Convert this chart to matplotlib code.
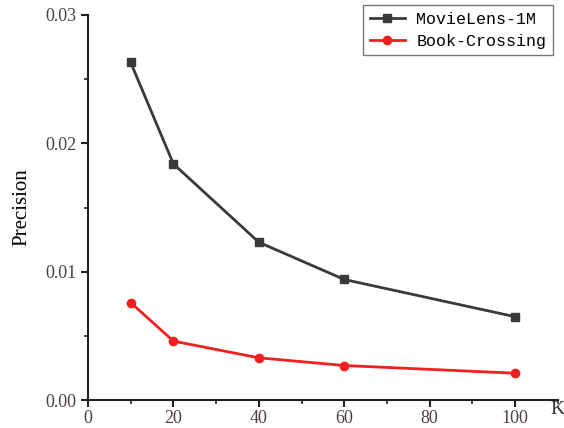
import numpy as np
import matplotlib.pyplot as plt
from matplotlib.ticker import MultipleLocator

plt.rcParams['font.family'] = ['Liberation Serif', 'DejaVu Serif']

k = [10, 20, 40, 60, 100]
movielens = [0.0263, 0.0184, 0.0123, 0.0094, 0.0065]
bookcrossing = [0.0076, 0.0046, 0.0033, 0.0027, 0.0021]

fig = plt.figure(figsize=(5.64, 4.28), dpi=100)
ax = fig.add_axes([0.156, 0.065, 0.833, 0.9])

ax.plot(k, movielens, color='#3a3a3a', marker='s', markersize=6, linewidth=2, label='MovieLens-1M')
ax.plot(k, bookcrossing, color='#f02020', marker='o', markersize=6, linewidth=2, label='Book-Crossing')

ax.set_xlim(0, 110)
ax.set_ylim(0, 0.03)
ax.xaxis.set_minor_locator(MultipleLocator(10))
ax.yaxis.set_minor_locator(MultipleLocator(0.005))
ax.set_yticks([0, 0.01, 0.02, 0.03])
ax.set_yticklabels(['0.00', '0.01', '0.02', '0.03'])
ax.set_xticks([0, 20, 40, 60, 80, 100])

for s in ['top', 'right']:
    ax.spines[s].set_visible(False)
for s in ['left', 'bottom']:
    ax.spines[s].set_linewidth(1.5)
    ax.spines[s].set_color('#222222')
ax.tick_params(which='major', direction='out', length=5, width=1.5, labelsize=13,
               color='#222222', labelcolor='#4a4040')
ax.tick_params(which='minor', direction='out', length=3, width=1.2, color='#222222')
ax.tick_params(axis='x', pad=2)

ax.set_ylabel('Precision', fontsize=15, labelpad=10)
fig.text(0.988, 0.043, 'K', fontsize=14, ha='center', va='center', color='#333333')

leg = ax.legend(loc='upper right', bbox_to_anchor=(0.99, 1.025), prop={'family': 'Liberation Mono', 'size': 12},
                frameon=True, fancybox=False, edgecolor='#555555', borderaxespad=0.0,
                handlelength=2.1, labelspacing=0.4, borderpad=0.4, handletextpad=0.7)
leg.get_frame().set_linewidth(1.0)

fig.savefig('out.png', dpi=100)
